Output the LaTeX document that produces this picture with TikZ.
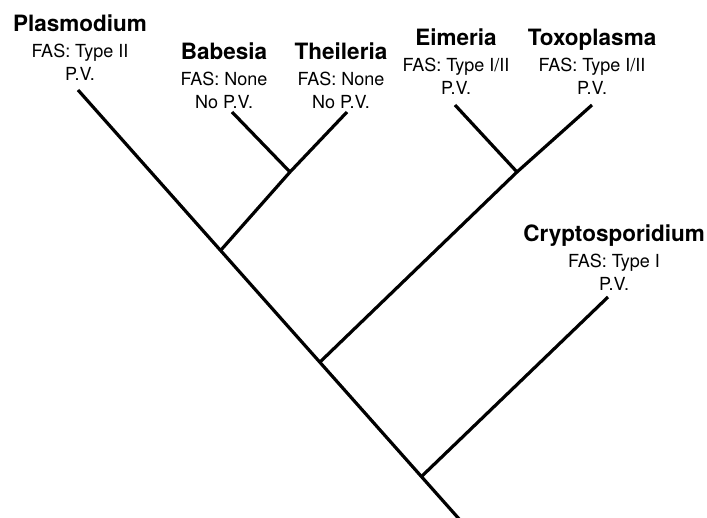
\documentclass[tikz,border=0pt]{standalone}
\usepackage{fontspec}
\setmainfont{TeX Gyre Heros}

\begin{document}
\begin{tikzpicture}[x=1pt,y=-1pt,
taxon/.style={anchor=north,inner sep=0pt,align=center,
  font=\fontsize{18}{23}\selectfont},
branch/.style={line width=3.2pt,black},
]
\useasboundingbox (0,0) rectangle (707,518);
\node[taxon] (plas) at (80,15) {{\fontsize{22.5}{23}\selectfont\bfseries Plasmodium}\\[3pt]FAS: Type II\\P.V.};
\node[taxon] (babe) at (224,43) {{\fontsize{22.5}{23}\selectfont\bfseries Babesia}\\[3pt]FAS: None\\No P.V.};
\node[taxon] (thei) at (341,43) {{\fontsize{22.5}{23}\selectfont\bfseries Theileria}\\[3pt]FAS: None\\No P.V.};
\node[taxon] (eime) at (456,29) {{\fontsize{22.5}{23}\selectfont\bfseries Eimeria}\\[3pt]FAS: Type I/II\\P.V.};
\node[taxon] (toxo) at (592,29) {{\fontsize{22.5}{23}\selectfont\bfseries Toxoplasma}\\[3pt]FAS: Type I/II\\P.V.};
\node[taxon] (cryp) at (614,225) {{\fontsize{22.5}{23}\selectfont\bfseries Cryptosporidium}\\[3pt]FAS: Type I\\P.V.};

\coordinate (plastip) at (78,90);
\coordinate (babetip) at (232,112);
\coordinate (theitip) at (347,112);
\coordinate (eimetip) at (455,105);
\coordinate (toxotip) at (592,105);
\coordinate (cryptip) at (608,297);
\coordinate (bt) at (290,172);
\coordinate (et) at (517,172);
\coordinate (btjoin) at (221,250);
\coordinate (etjoin) at (320,362);
\coordinate (crjoin) at (421,477);
\coordinate (root) at (460,520);

\draw[branch] (plastip) -- (root);
\draw[branch] (babetip) -- (bt);
\draw[branch] (theitip) -- (bt) -- (btjoin);
\draw[branch] (eimetip) -- (et);
\draw[branch] (toxotip) -- (et) -- (etjoin);
\draw[branch] (cryptip) -- (crjoin);
\end{tikzpicture}
\end{document}
